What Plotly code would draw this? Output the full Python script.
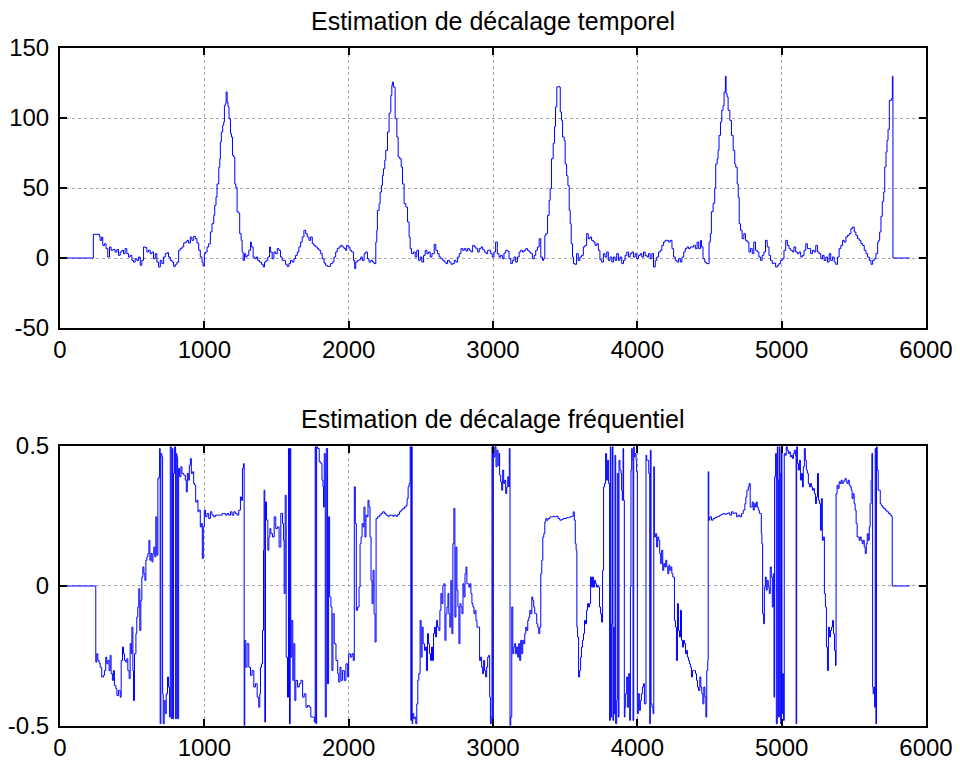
import plotly.graph_objects as go

# Estimated time offset (samples) : (sample index, offset)
time_offset_part1 = [
    (0, 0), (231, 16.9), (273, 15.5), (278, 12.6), (289, 15.0), (296, 9.0), (308, 10.2),
    (319, 6.7), (331, 0.7), (343, 7.9), (354, 5.5), (366, 6.0), (382, 4.3), (394, 6.0),
    (405, 1.9), (417, 4.3), (428, 5.5), (440, 3.1), (451, 6.7), (463, 3.1), (475, 0.7),
    (486, 1.9), (498, -1.7), (509, -2.9), (521, -0.5), (532, -1.7), (544, 0.7), (556, -5.2),
    (567, -1.7), (579, 7.9), (590, 7.4), (602, 4.3), (613, 5.5), (625, 3.1), (637, 4.3),
    (648, -0.5), (660, 3.1), (671, -2.9), (683, -6.4), (695, -1.7), (706, -4.0), (718, 0.7),
    (729, 3.1), (741, 3.8), (752, 0.7), (764, -1.7), (776, -2.9), (787, -6.0), (799, -4.5),
    (810, -2.9), (822, 5.5), (833, 6.7), (845, 7.9), (857, 10.7), (868, 11.4), (880, 12.6),
    (891, 10.7), (903, 15.0), (914, 12.6), (926, 15.5), (938, 13.8), (949, 10.7), (961, 5.5),
    (972, 0.7), (984, -2.9), (991, -5.7), (1000, 3.1), (1009, 4.3), (1019, 7.9), (1030, 10.2),
    (1042, 18.6), (1053, 24.5), (1065, 30.5), (1072, 37.6), (1081, 43.6), (1088, 52.9),
    (1100, 64.8), (1107, 70.7), (1111, 82.9), (1118, 90.0), (1127, 94.8), (1134, 97.1),
    (1139, 109.0), (1146, 110.2), (1151, 118.6), (1158, 111.4), (1164, 107.9), (1171, 99.5),
    (1181, 88.8), (1188, 86.4), (1195, 73.3), (1204, 72.1), (1211, 52.9), (1218, 50.5),
    (1227, 32.9), (1239, 31.7), (1245, 17.4), (1255, 12.6), (1262, 4.3), (1269, -1.7),
    (1278, 3.1), (1287, 0.7), (1296, 1.9), (1308, 5.5), (1320, 11.4), (1326, 7.9), (1338, 0.7),
    (1350, -0.5), (1361, 0.7), (1370, -1.7), (1382, -2.9), (1396, -4.5), (1408, -6.4),
    (1417, -2.9), (1428, -1.7), (1440, 0.7), (1452, 7.9), (1458, 4.3), (1470, -0.5),
    (1482, 4.3), (1493, 3.1), (1505, 6.7), (1516, 5.5), (1528, 0.7), (1539, -1.7), (1551, -1.7),
    (1563, -4.5), (1574, -6.0), (1586, -4.0), (1597, -1.7), (1609, -2.9), (1621, -0.5),
    (1632, 1.9), (1644, 4.3), (1655, 7.9), (1667, 11.4), (1678, 15.0), (1690, 19.8),
    (1702, 17.4), (1713, 15.0), (1725, 12.6), (1736, 15.0), (1748, 10.2), (1759, 9.0),
    (1771, 7.9), (1783, 6.7), (1794, 5.5), (1806, 3.1), (1817, -0.5), (1829, -3.6),
    (1840, -5.2), (1852, -6.0), (1864, -6.0), (1875, -4.0), (1887, -2.9), (1898, 0.7),
    (1910, 4.3), (1921, 6.7), (1933, 7.9), (1945, 9.0), (1956, 7.9), (1968, 6.7), (1979, 5.5),
    (1986, 9.0), (1998, 7.9), (2009, 5.5), (2021, 4.3), (2033, -1.7), (2042, -7.6),
    (2049, -2.9), (2060, -1.7), (2072, -1.2), (2084, 0.7), (2095, -1.7), (2107, 3.1),
    (2118, 4.3), (2130, -0.5), (2141, -2.9), (2153, -1.7), (2165, -2.9), (2176, -4.0),
    (2188, 11.4), (2195, 19.8), (2199, 34.0), (2211, 38.8), (2218, 47.1), (2227, 51.9),
    (2234, 59.0), (2241, 63.8), (2250, 69.8), (2257, 76.9), (2269, 90.0), (2280, 103.1),
    (2287, 104.3), (2292, 116.2), (2299, 123.3), (2303, 125.7), (2310, 122.1), (2322, 99.5),
    (2334, 86.4), (2343, 72.1), (2354, 70.9), (2364, 65.0), (2373, 52.9), (2384, 38.8),
    (2396, 36.4), (2408, 25.7), (2419, 15.0), (2426, 6.7), (2435, 3.1), (2449, 4.3),
    (2461, 0.7), (2472, 5.5), (2484, -1.7), (2496, 0.7), (2507, -2.9), (2519, 1.9),
    (2530, 5.5), (2542, 3.1), (2553, 4.3), (2565, 0.7), (2577, 3.1), (2593, 9.8), (2604, 5.5),
    (2616, 3.1), (2627, 0.7), (2639, -0.5), (2651, -1.7), (2662, -2.9), (2674, -4.0),
    (2685, -1.7), (2697, -2.9), (2709, -4.5), (2720, -4.0), (2732, -1.7), (2743, -2.9),
    (2755, 0.7), (2766, 3.1), (2778, 6.7), (2790, 5.5), (2801, 6.7), (2813, 5.0), (2824, 6.7),
    (2836, 5.5), (2847, 4.3), (2859, 9.0), (2871, 7.9), (2882, 6.7), (2894, 4.3), (2905, 6.7),
    (2917, 7.9), (2928, 6.0), (2940, 4.3), (2952, 3.1), (2963, 5.5),
]

time_offset_part2 = [
    (2984, 3.1), (2995, 0.7), (3007, 4.3), (3018, 11.4), (3030, 3.1), (3042, 0.7), (3053, 1.9),
    (3065, -0.5), (3076, 3.6), (3088, 5.5), (3099, 5.0), (3111, -0.5), (3123, -4.0),
    (3134, -1.7), (3146, 0.7), (3157, -2.9), (3169, 0.7), (3181, 4.3), (3192, 5.5), (3204, 4.3),
    (3215, 5.5), (3227, 6.7), (3239, 5.5), (3250, 4.3), (3262, 3.1), (3273, -0.5), (3285, 1.9),
    (3296, 5.5), (3308, 7.9), (3320, 13.8), (3331, 0.7), (3343, -1.7), (3350, -0.5),
    (3359, 16.0), (3366, 17.4), (3378, 30.5), (3389, 41.2), (3396, 49.5), (3405, 70.9),
    (3417, 81.9), (3426, 93.8), (3433, 107.9), (3442, 122.1), (3452, 122.6), (3459, 122.1),
    (3466, 104.3), (3475, 98.3), (3482, 86.4), (3493, 84.0), (3500, 67.1), (3510, 58.8),
    (3519, 51.7), (3528, 34.0), (3535, 24.5), (3542, 10.2), (3551, 0.7), (3558, -4.0),
    (3568, -4.5), (3579, 3.1), (3591, -1.7), (3602, 0.7), (3614, 1.9), (3626, 7.9), (3637, 9.0),
    (3649, 17.4), (3660, 13.8), (3672, 15.0), (3683, 12.6), (3695, 11.4), (3707, 9.0),
    (3718, 10.2), (3730, 5.5), (3741, -1.2), (3753, -2.9), (3765, 3.1), (3776, 0.7),
    (3788, 4.3), (3799, -1.7), (3811, 0.7), (3823, -2.9), (3834, 0.7), (3846, -1.7),
    (3857, 3.1), (3869, -1.7), (3880, 0.7), (3892, -4.0), (3904, -1.7), (3915, 1.9),
    (3927, 4.3), (3938, 0.7), (3950, 3.1), (3962, 4.3), (3973, 0.7), (3985, 3.1), (3996, -0.5),
    (4008, 1.9), (4020, 3.1), (4031, 0.7), (4043, 4.3), (4054, 1.9), (4066, 0.7), (4077, 3.1),
    (4089, -0.5), (4101, 3.1), (4112, -6.4), (4124, -1.7), (4135, 0.7), (4147, 4.3),
    (4159, 5.5), (4170, 9.0), (4182, 11.4), (4193, 12.6), (4205, 12.6), (4217, 11.4),
    (4228, 12.6), (4240, 6.7), (4251, 0.7), (4263, -1.7), (4274, -2.9), (4286, -0.5),
    (4298, -2.9), (4309, 0.7), (4321, 4.3), (4332, 6.7), (4344, 7.9), (4355, 6.7), (4367, 7.9),
    (4379, 7.9), (4390, 9.0), (4402, 6.7), (4414, 11.4), (4425, 6.7), (4437, 12.6),
    (4444, 7.9), (4455, -0.5), (4467, -2.9), (4478, -4.0), (4490, -4.0), (4497, 11.4),
    (4506, 17.4), (4513, 33.1), (4525, 39.0), (4536, 49.8), (4543, 67.1), (4553, 70.7),
    (4559, 76.9), (4566, 87.6), (4576, 97.1), (4585, 105.5), (4594, 108.8), (4601, 118.6),
    (4610, 129.8), (4615, 117.4), (4622, 115.0), (4629, 105.5), (4641, 98.3), (4652, 87.6),
    (4664, 76.9), (4675, 67.1), (4682, 64.8), (4692, 52.9), (4699, 43.3), (4706, 24.5),
    (4715, 19.8), (4726, 13.8), (4738, 17.4), (4749, 12.6), (4761, 11.4), (4773, 4.3),
    (4784, 6.7), (4796, 3.1), (4807, 11.4), (4819, 5.5), (4831, 4.3), (4842, 0.7),
    (4854, -1.7), (4865, 1.9), (4877, 4.3), (4888, 12.6), (4900, 7.9), (4912, 1.9),
    (4923, -1.7), (4935, -4.0), (4946, -3.6), (4958, -6.4), (4970, -5.2), (4981, -4.0),
    (4993, -1.7), (5004, -0.5), (5016, 5.5), (5028, 12.6), (5039, 9.0), (5051, 6.7),
    (5062, 5.5), (5074, 4.3), (5085, 7.9), (5097, 4.3), (5109, 3.1), (5120, 4.3), (5132, 0.7),
    (5144, 1.9), (5155, 5.5), (5167, 10.2), (5178, 6.7), (5190, 6.7), (5201, 3.1), (5213, 5.5),
    (5225, 4.3), (5236, 9.0), (5248, 4.3), (5259, 3.1), (5271, -0.5), (5283, 1.9),
    (5294, -1.7), (5306, 0.7), (5317, -2.9), (5329, 3.1), (5340, -1.7), (5352, 0.7),
    (5364, -2.9), (5375, -4.5), (5387, 0.7), (5398, 6.7), (5410, 9.0), (5422, 12.6),
    (5433, 11.4), (5445, 15.0), (5456, 16.2), (5468, 17.4), (5480, 21.0), (5491, 22.1),
    (5503, 18.6), (5514, 16.2), (5526, 13.8), (5538, 12.6), (5549, 10.2), (5561, 9.0),
    (5572, 5.5), (5584, 3.1), (5595, 0.7), (5607, -1.7), (5619, -4.5), (5630, -1.7),
    (5642, -0.5), (5653, 3.1), (5665, 11.4), (5672, 12.6), (5679, 18.6), (5688, 29.8),
    (5697, 40.5), (5707, 47.1), (5714, 65.0), (5723, 75.7), (5730, 84.0), (5737, 91.9),
    (5746, 112.6), (5760, 113.8), (5767, 129.8), (5771, 0), (5887, 0),
]

# Estimated frequency offset (normalised) : (sample index, offset)
freq_offset_part1 = [
    (0, 0), (248, -0.272), (255, -0.242), (262, -0.266), (271, -0.275), (278, -0.290),
    (289, -0.325), (301, -0.319), (308, -0.302), (317, -0.254), (324, -0.278), (331, -0.266),
    (340, -0.302), (347, -0.248), (354, -0.313), (363, -0.337), (370, -0.302), (377, -0.355),
    (387, -0.367), (394, -0.391), (405, -0.373), (417, -0.397), (424, -0.266), (433, -0.218),
    (440, -0.242), (447, -0.266), (456, -0.272), (463, -0.260), (470, -0.302), (479, -0.331),
    (486, -0.206), (493, -0.242), (498, -0.147), (505, -0.302), (509, -0.409), (516, -0.242),
    (526, -0.170), (532, -0.111), (539, -0.075), (546, -0.010), (553, -0.159), (560, -0.051),
    (567, 0.032), (574, 0.068), (581, 0.044), (588, 0.020), (595, 0.092), (602, 0.104),
    (609, 0.116), (616, 0.163), (623, 0.092), (630, 0.116), (637, 0.086), (644, 0.116),
    (650, 0.139), (657, 0.104), (664, 0.247), (671, 0.110), (678, 0.384), (685, 0.390),
    (690, 0.491), (694, -0.492), (699, 0.473), (706, 0.461), (711, -0.385), (715, -0.492),
    (722, -0.409), (729, -0.456), (736, -0.385), (745, -0.325), (752, -0.361), (759, -0.468),
    (764, 0.497), (771, -0.474), (778, 0.491), (782, -0.474), (787, 0.402), (794, 0.497),
    (801, -0.474), (806, 0.473), (810, 0.461), (815, -0.474), (822, 0.420), (829, 0.390),
    (838, 0.426), (845, 0.402), (857, 0.396), (868, 0.378), (875, 0.336), (882, 0.402),
    (889, 0.378), (896, 0.431), (903, 0.455), (910, 0.402), (919, 0.408), (926, 0.366),
    (933, 0.360), (940, 0.300), (949, 0.306), (956, 0.265), (963, 0.271), (972, 0.211),
    (979, 0.223), (986, 0.098), (993, 0.211), (1000, 0.271), (1009, 0.247), (1019, 0.259),
    (1030, 0.241), (1042, 0.265), (1053, 0.253), (1065, 0.247), (1076, 0.253), (1088, 0.253),
    (1100, 0.253), (1111, 0.253), (1123, 0.259), (1134, 0.259), (1146, 0.253), (1158, 0.259),
    (1169, 0.253), (1181, 0.265), (1192, 0.253), (1204, 0.265), (1215, 0.259), (1227, 0.253),
    (1239, 0.271), (1250, 0.318), (1257, 0.306), (1264, 0.420), (1271, 0.437), (1276, -0.498),
    (1280, -0.194), (1287, -0.290), (1296, -0.206), (1308, -0.290), (1320, -0.319),
    (1331, -0.302), (1343, -0.361), (1354, -0.349), (1366, -0.397), (1377, -0.433),
    (1384, -0.385), (1389, -0.290), (1396, -0.278), (1403, -0.159), (1410, 0.128),
    (1414, 0.342), (1419, -0.486), (1424, 0.300), (1431, 0.235), (1440, 0.128), (1447, 0.175),
    (1454, 0.205),
    (1461, 0.187), (1472, 0.175), (1484, 0.247), (1495, 0.205), (1507, 0.211), (1518, 0.139),
    (1530, 0.259), (1542, 0.223), (1549, 0.163), (1553, -0.027), (1560, 0.324), (1567, -0.254),
    (1576, -0.397), (1583, 0.491), (1590, -0.492), (1595, 0.491), (1599, -0.254),
    (1606, -0.123), (1613, -0.337), (1620, -0.206), (1627, -0.409), (1634, -0.337),
    (1646, -0.361), (1657, -0.349), (1669, -0.337), (1681, -0.397), (1692, -0.385),
    (1704, -0.433), (1715, -0.427), (1727, -0.433), (1738, -0.468), (1750, -0.468),
    (1762, -0.486), (1768, 0.497), (1773, -0.492), (1778, 0.497), (1785, 0.491), (1796, 0.443),
    (1808, 0.437), (1815, 0.378), (1822, 0.354), (1826, 0.282), (1831, 0.473), (1838, -0.468),
    (1845, 0.491), (1850, 0.491), (1854, -0.349), (1861, 0.247), (1868, -0.039),
    (1877, -0.075), (1884, -0.302), (1891, -0.099), (1900, -0.206), (1912, -0.266),
    (1924, -0.313), (1931, -0.343), (1940, -0.290), (1947, -0.337), (1958, -0.302),
    (1970, -0.337), (1981, -0.278), (1993, -0.325), (2000, -0.242), (2012, -0.254),
    (2023, -0.242), (2032, -0.266), (2039, 0.354), (2046, 0.223), (2053, -0.087),
    (2062, -0.075), (2072, -0.004), (2079, 0.151), (2086, 0.175), (2093, 0.223), (2100, 0.211),
    (2106, 0.282), (2113, 0.175), (2120, 0.253), (2127, 0.247), (2134, 0.306), (2141, 0.282),
    (2148, 0.175), (2155, 0.020), (2162, -0.063), (2169, 0.056), (2176, -0.099), (2183, -0.200),
    (2190, 0.241), (2201, 0.247), (2213, 0.253), (2225, 0.259), (2236, 0.265), (2248, 0.259),
    (2259, 0.253), (2271, 0.249), (2282, 0.253), (2294, 0.253), (2306, 0.249), (2317, 0.253),
    (2329, 0.249), (2340, 0.256), (2352, 0.265), (2363, 0.271), (2375, 0.277), (2387, 0.282),
    (2398, 0.288), (2405, 0.312), (2412, 0.354), (2419, 0.366), (2426, 0.497), (2431, -0.480),
    (2435, 0.497), (2440, -0.492), (2444, -0.456), (2451, -0.474), (2458, -0.468),
    (2465, -0.492), (2472, -0.421), (2479, -0.337), (2486, -0.313), (2495, -0.123),
    (2502, -0.254), (2509, -0.147), (2516, -0.206), (2525, -0.230), (2532, -0.218),
    (2539, -0.302), (2546, -0.170), (2553, -0.206), (2560, -0.242), (2567, -0.266),
    (2574, -0.218), (2581, -0.266), (2588, -0.170), (2595, -0.147), (2602, -0.182),
    (2609, -0.123), (2616, -0.147), (2625, -0.159), (2632, -0.087), (2639, -0.027),
    (2646, -0.063), (2653, 0.002), (2660, 0.008), (2667, -0.194), (2674, -0.099),
    (2681, -0.075), (2688, -0.027), (2694, -0.099), (2701, -0.147), (2708, 0.020),
    (2715, -0.170), (2722, 0.151), (2729, 0.277), (2736, -0.111), (2743, 0.139),
    (2750, -0.015), (2757, -0.075), (2764, -0.206), (2771, -0.063), (2778, -0.075),
    (2785, -0.099), (2792, 0.008), (2799, -0.039), (2806, 0.044), (2813, 0.068), (2819, 0.008),
    (2826, 0.008), (2833, -0.004), (2840, 0.008), (2847, -0.027), (2854, -0.063),
    (2861, -0.075), (2868, -0.099), (2875, -0.087), (2882, -0.123), (2889, -0.147),
]

freq_offset_part2 = [
    (2907, -0.266), (2914, -0.254), (2921, -0.290), (2928, -0.313), (2935, -0.266),
    (2942, -0.302), (2949, -0.325), (2956, -0.290), (2963, -0.254), (2970, -0.248),
    (2977, -0.397), (2982, -0.492), (2988, -0.468), (2993, 0.497), (2998, -0.498),
    (3002, 0.497), (3007, 0.461), (3014, 0.497), (3021, 0.426), (3028, 0.485), (3035, 0.431),
    (3042, 0.473), (3046, 0.396), (3053, 0.372), (3060, 0.342), (3067, 0.414), (3074, 0.366),
    (3081, 0.378), (3088, 0.330), (3095, 0.354), (3102, 0.390), (3109, 0.354), (3113, 0.491),
    (3118, -0.498), (3123, -0.468), (3130, -0.075), (3137, -0.242), (3144, -0.218),
    (3150, -0.206), (3157, -0.242), (3164, -0.218), (3171, -0.254), (3178, -0.206),
    (3185, -0.266), (3192, -0.194), (3199, -0.242), (3206, -0.194), (3213, -0.206),
    (3220, -0.170), (3227, -0.147), (3234, -0.159), (3241, -0.123), (3248, -0.111),
    (3255, -0.087), (3262, -0.099), (3269, -0.039), (3275, -0.051), (3282, -0.075),
    (3289, -0.099), (3296, -0.099), (3303, -0.135), (3310, -0.147), (3317, -0.170),
    (3324, -0.147), (3331, 0.044), (3338, 0.092), (3345, 0.175), (3352, 0.187), (3359, 0.229),
    (3366, 0.241), (3373, 0.235), (3382, 0.241), (3394, 0.247), (3405, 0.247), (3417, 0.249),
    (3428, 0.247), (3440, 0.249), (3451, 0.241), (3463, 0.235), (3475, 0.237), (3486, 0.241),
    (3498, 0.241), (3509, 0.244), (3521, 0.244), (3532, 0.247), (3544, 0.249), (3556, 0.265),
    (3563, 0.235), (3570, 0.151), (3576, 0.128), (3581, -0.147), (3586, -0.182),
    (3593, -0.325), (3600, -0.302), (3607, -0.254), (3613, -0.218), (3620, -0.194),
    (3627, -0.170), (3634, -0.123), (3641, -0.135), (3648, -0.087), (3655, -0.063),
    (3662, -0.075), (3669, -0.063), (3676, 0.032), (3683, -0.004), (3690, 0.032),
    (3697, -0.004), (3704, 0.020), (3711, 0.008), (3718, -0.004), (3725, 0.002),
    (3732, -0.004), (3738, -0.075), (3745, -0.099), (3752, -0.129), (3759, 0.056),
    (3766, 0.354), (3773, 0.366), (3780, 0.473), (3787, 0.378), (3794, 0.449), (3801, 0.366),
    (3808, -0.480), (3813, 0.497), (3817, -0.468), (3822, -0.135), (3827, 0.497),
    (3831, -0.480), (3836, -0.147), (3840, -0.456), (3845, 0.467), (3850, -0.492),
    (3857, -0.409), (3861, 0.402), (3868, -0.468), (3873, 0.449), (3880, 0.414), (3887, 0.402),
    (3891, 0.342), (3896, 0.306), (3901, 0.491), (3905, 0.306), (3910, -0.468), (3914, -0.433),
    (3919, -0.385), (3926, -0.325), (3933, -0.433), (3940, -0.313), (3947, -0.480),
    (3952, -0.004), (3956, 0.414), (3961, 0.491), (3965, 0.449), (3970, -0.480), (3975, 0.497),
    (3979, 0.461), (3984, 0.473), (3991, 0.449), (3995, 0.408), (4000, -0.456), (4007, -0.385),
    (4014, -0.444), (4021, -0.409), (4028, -0.385), (4035, -0.361), (4042, -0.349),
    (4049, -0.421), (4056, -0.421), (4060, 0.467), (4065, 0.449), (4072, 0.449), (4079, 0.402),
    (4086, -0.492), (4090, 0.485), (4095, -0.421), (4102, -0.433), (4109, -0.456),
    (4114, 0.426), (4118, 0.175), (4127, 0.187), (4134, 0.139), (4141, 0.175), (4148, 0.163),
    (4155, 0.116), (4162, 0.080), (4169, 0.128), (4176, 0.056), (4183, 0.080), (4190, 0.068),
    (4197, 0.092), (4204, 0.068), (4211, 0.044), (4218, 0.074), (4225, 0.056), (4232, 0.068),
    (4239, 0.044), (4246, 0.032), (4252, 0.032), (4257, -0.123), (4264, -0.147),
    (4271, -0.266), (4278, -0.063), (4285, -0.159), (4292, -0.182), (4299, -0.087),
    (4306, -0.194), (4313, -0.218), (4320, -0.194), (4327, -0.206), (4334, -0.242),
    (4340, -0.230), (4347, -0.254), (4354, -0.266), (4361, -0.278), (4368, -0.290),
    (4375, -0.325), (4382, -0.302), (4389, -0.302), (4396, -0.302), (4403, -0.313),
    (4410, -0.337), (4417, -0.361), (4424, -0.373),
    (4433, -0.325), (4440, -0.361), (4447, -0.385), (4454, -0.421), (4461, -0.361),
    (4468, -0.397), (4475, -0.468), (4481, -0.302), (4488, -0.266), (4491, 0.408),
    (4495, 0.235), (4502, 0.247), (4514, 0.235), (4525, 0.241), (4537, 0.244), (4549, 0.247),
    (4560, 0.249), (4572, 0.253), (4583, 0.256), (4595, 0.259), (4606, 0.256), (4618, 0.259),
    (4630, 0.261), (4641, 0.253), (4653, 0.265), (4664, 0.259), (4676, 0.261), (4688, 0.247),
    (4699, 0.253), (4711, 0.247), (4722, 0.259), (4734, 0.271), (4745, 0.294), (4752, 0.318),
    (4759, 0.342), (4769, 0.354), (4775, 0.366), (4782, 0.282), (4789, 0.282), (4796, 0.300),
    (4803, 0.271), (4810, 0.294), (4817, 0.282), (4824, 0.300), (4831, 0.282), (4838, 0.271),
    (4845, 0.259), (4852, 0.259), (4859, 0.187), (4863, 0.151), (4868, -0.099),
    (4875, -0.135), (4880, -0.004), (4887, 0.032), (4893, -0.015), (4900, 0.020),
    (4907, -0.004), (4914, -0.027), (4921, 0.068), (4928, 0.032), (4935, -0.075),
    (4942, 0.044), (4947, -0.397), (4951, 0.390), (4958, 0.473), (4963, -0.492), (4970, 0.497),
    (4974, 0.378), (4979, -0.468), (4984, 0.497), (4988, 0.402), (4993, -0.492), (4998, 0.485),
    (5002, -0.456), (5007, -0.313), (5012, -0.480), (5018, 0.473), (5025, 0.467),
    (5032, 0.497), (5039, 0.485), (5046, 0.473), (5053, 0.479), (5060, 0.461), (5067, 0.467),
    (5074, 0.455), (5081, 0.473), (5088, 0.485), (5095, 0.467), (5100, -0.492), (5104, 0.497),
    (5109, 0.437), (5116, 0.414), (5123, 0.449), (5130, 0.378), (5137, 0.402), (5144, 0.354),
    (5150, 0.426), (5157, 0.491), (5164, 0.449), (5171, 0.414), (5178, 0.402), (5185, 0.366),
    (5192, 0.354), (5199, 0.366), (5206, 0.354), (5213, 0.342), (5220, 0.348), (5227, 0.330),
    (5234, 0.294), (5241, 0.318), (5248, 0.402), (5255, 0.306), (5262, 0.294), (5269, 0.199),
    (5275, 0.312), (5282, 0.163), (5289, 0.175), (5296, -0.027), (5303, -0.075),
    (5310, -0.218), (5317, -0.302), (5324, -0.147), (5331, -0.182), (5338, -0.159),
    (5345, -0.147), (5352, -0.123), (5359, -0.170), (5366, -0.230), (5373, -0.284),
    (5377, 0.330), (5384, 0.360), (5391, 0.348), (5398, 0.372), (5405, 0.366), (5412, 0.378),
    (5419, 0.366), (5426, 0.372), (5433, 0.378), (5440, 0.384), (5447, 0.372), (5454, 0.366),
    (5461, 0.378), (5468, 0.360), (5475, 0.354), (5482, 0.342), (5488, 0.312), (5495, 0.330),
    (5502, 0.294), (5509, 0.271), (5516, 0.223), (5523, 0.175), (5530, 0.175), (5537, 0.163),
    (5544, 0.175), (5551, 0.163), (5558, 0.151), (5565, 0.163), (5572, 0.139), (5579, 0.116),
    (5586, 0.151), (5593, 0.187), (5600, 0.163), (5607, 0.211), (5613, 0.294), (5620, 0.378),
    (5625, 0.473), (5630, -0.361), (5634, -0.385), (5639, -0.361), (5644, -0.433),
    (5648, 0.491), (5653, -0.492), (5657, 0.497), (5662, 0.414), (5669, 0.342), (5676, 0.342),
    (5683, 0.294), (5690, 0.288), (5697, 0.282), (5706, 0.277), (5718, 0.271), (5729, 0.265),
    (5741, 0.259), (5752, 0.253), (5762, 0.249), (5766, 0), (5887, 0),
]

x_ticks = [0, 1000, 2000, 3000, 4000, 5000, 6000]
time_ticks = [-50, 0, 50, 100, 150]
time_tick_text = ["-50", "0", "50", "100", "150"]
freq_ticks = [-0.5, 0, 0.5]
freq_tick_text = ["-0.5", "0", "0.5"]

titles = ["Estimation de décalage temporel", "Estimation de décalage fréquentiel"]

t_x, t_y = zip(*(time_offset_part1 + time_offset_part2))
f_x, f_y = zip(*(freq_offset_part1 + freq_offset_part2))

FONT = "Liberation Sans, Arial, sans-serif"
BLUE = "#0000ff"

fig = go.Figure()
fig.add_trace(go.Scatter(x=list(t_x), y=list(t_y), mode="lines",
                         line=dict(color=BLUE, width=1, shape="hv"),
                         xaxis="x", yaxis="y", showlegend=False, hoverinfo="skip"))
fig.add_trace(go.Scatter(x=list(f_x), y=list(f_y), mode="lines",
                         line=dict(color=BLUE, width=1, shape="hv"),
                         xaxis="x2", yaxis="y2", showlegend=False, hoverinfo="skip"))

axis_common = dict(
    showgrid=True, gridcolor="#a6a6a6", griddash="dot", gridwidth=1,
    zeroline=False, showline=True, linecolor="black", linewidth=2,
    mirror="ticks", ticks="inside", ticklen=7, tickwidth=2, tickcolor="black",
    tickfont=dict(family=FONT, size=24, color="black"),
    automargin=False,
)

fig.update_layout(
    width=960, height=762,
    margin=dict(l=60, r=34, t=48, b=36),
    paper_bgcolor="white", plot_bgcolor="white",
    xaxis=dict(domain=[0, 1], anchor="y", range=[0, 6000], tickvals=x_ticks,
               ticklabelstandoff=-1, **axis_common),
    yaxis=dict(domain=[0.587, 1], anchor="x", range=[-50, 150], tickvals=time_ticks,
               ticktext=time_tick_text, ticklabelstandoff=4, **axis_common),
    xaxis2=dict(domain=[0, 1], anchor="y2", range=[0, 6000], tickvals=x_ticks,
                ticklabelstandoff=-1, **axis_common),
    yaxis2=dict(domain=[0, 0.413], anchor="x2", range=[-0.5, 0.5], tickvals=freq_ticks,
                ticktext=freq_tick_text, ticklabelstandoff=4, **axis_common),
    annotations=[
        dict(text=titles[0], xref="paper", yref="paper", x=0.5, y=1.0398,
             xanchor="center", yanchor="middle", showarrow=False,
             font=dict(family=FONT, size=25, color="black")),
        dict(text=titles[1], xref="paper", yref="paper", x=0.5, y=0.4528,
             xanchor="center", yanchor="middle", showarrow=False,
             font=dict(family=FONT, size=25, color="black")),
    ],
)

fig.write_html("out.html")
